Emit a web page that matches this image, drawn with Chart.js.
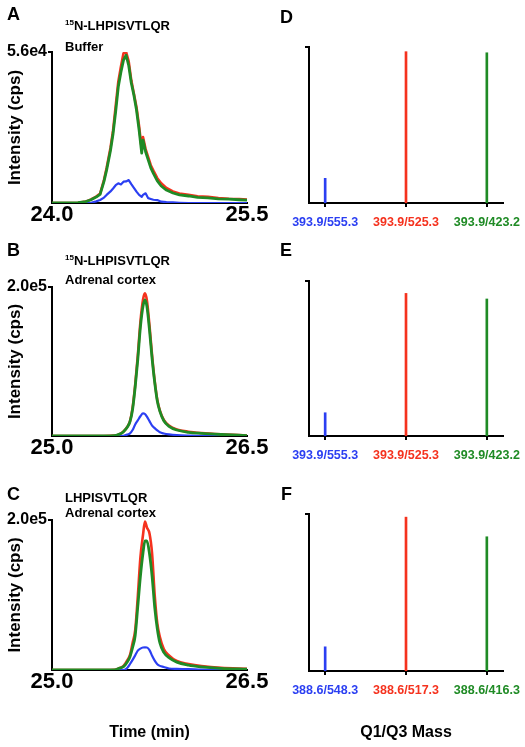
<!DOCTYPE html>
<html>
<head>
<meta charset="utf-8">
<script src="https://cdn.jsdelivr.net/npm/chart.js@4.4.1/dist/chart.umd.min.js"></script>
<style>
  body { margin: 0; background: #fff; }
  #fig { position: relative; width: 525px; height: 747px; overflow: hidden; font-family: "Liberation Sans", Arial, sans-serif; }
  canvas { position: absolute; }
  .lab { position: absolute; font-weight: bold; font-size: 18px; line-height: 1; color: #000; }
  .ann { position: absolute; font-weight: bold; font-size: 13px; color: #000; white-space: nowrap; }
  .ann sup { font-size: 8px; vertical-align: baseline; position: relative; top: -5px; }
</style>
</head>
<body>
<div id="fig">
  <canvas id="cA" width="275" height="232" style="left:0;top:0"></canvas>
  <canvas id="cB" width="275" height="232" style="left:0;top:240px"></canvas>
  <canvas id="cC" width="275" height="267" style="left:0;top:480px"></canvas>
  <canvas id="cD" width="250" height="232" style="left:275px;top:0"></canvas>
  <canvas id="cE" width="250" height="232" style="left:275px;top:240px"></canvas>
  <canvas id="cF" width="250" height="267" style="left:275px;top:480px"></canvas>

  <div class="lab" style="left:7px;top:5px">A</div>
  <div class="lab" style="left:7px;top:241px">B</div>
  <div class="lab" style="left:7px;top:485px">C</div>
  <div class="lab" style="left:280px;top:8px">D</div>
  <div class="lab" style="left:280px;top:241px">E</div>
  <div class="lab" style="left:281px;top:485px">F</div>

  <div class="ann" style="left:65px;top:17px;line-height:18.6px"><sup>15</sup>N-LHPISVTLQR<br>Buffer</div>
  <div class="ann" style="left:65px;top:253px;line-height:16.6px"><sup>15</sup>N-LHPISVTLQR<br>Adrenal cortex</div>
  <div class="ann" style="left:65px;top:490px;line-height:15px">LHPISVTLQR<br>Adrenal cortex</div>
</div>

<script>
// --- datos ---
// A: 15N-LHPISVTLQR en buffer
const timeA = [24.00, 24.10, 24.20, 24.26, 24.30, 24.34, 24.37, 24.40, 24.42, 24.45, 24.47, 24.49, 24.51, 24.53, 24.55, 24.57, 24.59, 24.61, 24.63, 24.65, 24.67, 24.69, 24.70, 24.72, 24.74, 24.76, 24.78, 24.81, 24.84, 24.88, 24.93, 24.98, 25.05, 25.12, 25.20, 25.28, 25.36, 25.44, 25.50];
const redA   = [0, 0, 100, 500, 1300, 2400, 3500, 8600, 13000, 20500, 27000, 36000, 45000, 50500, 55500, 56000, 52500, 45500, 40500, 35500, 28500, 20000, 24500, 20000, 17000, 14000, 12000, 9200, 7300, 5600, 4300, 3500, 3000, 2500, 2300, 1800, 1600, 1500, 1300];
const greenA = [0, 0, 100, 500, 1200, 2200, 3200, 8000, 12200, 19500, 25800, 34000, 43100, 48500, 53000, 54800, 51000, 44500, 40000, 34500, 27000, 18500, 23300, 19000, 16000, 13000, 11000, 8200, 6300, 4800, 3700, 3000, 2600, 2100, 1900, 1500, 1400, 1200, 1100];
const blueA  = [0, 0, 0, 0, 100, 600, 1100, 2000, 3000, 4300, 5400, 6600, 7300, 6900, 7900, 8000, 8500, 7000, 5600, 4200, 3000, 2300, 3000, 3600, 1800, 1500, 1200, 1100, 500, 300, 200, 100, 0, 0, 0, 0, 0, 0, 0];

// B: 15N-LHPISVTLQR en corteza adrenal
const timeB  = [25.00, 25.20, 25.40, 25.48, 25.52, 25.55, 25.58, 25.60, 25.62, 25.64, 25.66, 25.68, 25.70, 25.715, 25.73, 25.75, 25.77, 25.79, 25.81, 25.83, 25.86, 25.90, 25.96, 26.05, 26.15, 26.30, 26.50];
const redB   = [0, 0, 0, 500, 2600, 6000, 12500, 20000, 38000, 69000, 108000, 153000, 183000, 191500, 182000, 148000, 108000, 74000, 48500, 34000, 21500, 14000, 8800, 5800, 4000, 2300, 700];
const greenB = [0, 0, 0, 500, 2500, 5800, 12000, 19200, 36000, 66000, 103000, 146000, 174000, 182600, 174000, 142000, 104000, 72000, 47000, 33000, 20500, 13000, 8000, 5000, 3500, 2000, 500];
const blueB  = [0, 0, 0, 0, 0, 300, 2000, 3600, 8000, 15500, 21000, 26500, 30400, 29500, 25900, 20000, 14000, 10500, 7500, 5000, 3400, 2200, 1200, 600, 300, 0, 0];

// C: LHPISVTLQR endógeno en corteza adrenal
const timeC  = [25.00, 25.20, 25.40, 25.48, 25.52, 25.55, 25.58, 25.60, 25.62, 25.64, 25.66, 25.68, 25.70, 25.715, 25.73, 25.75, 25.77, 25.79, 25.81, 25.83, 25.86, 25.90, 25.96, 26.05, 26.15, 26.30, 26.50];
const redC   = [0, 0, 0, 300, 2600, 5300, 13000, 20000, 36000, 53000, 98000, 150000, 180000, 198000, 190000, 182000, 155000, 100000, 62000, 44000, 28000, 19500, 12000, 8000, 5200, 2800, 1700];
const greenC = [0, 0, 0, 300, 2500, 4400, 11000, 17800, 30000, 46000, 85000, 125000, 156000, 172000, 172000, 155000, 125000, 84000, 55000, 36000, 23500, 16500, 10500, 6500, 4200, 2200, 1000];
const blueC  = [0, 0, 0, 0, 0, 0, 3000, 8000, 13500, 19500, 25800, 28500, 30000, 30200, 30000, 26500, 19000, 12500, 7800, 5500, 4000, 2000, 1500, 1200, 500, 200, 0];

const xRangeA = [24.0, 25.5];
const xRangeB = [25.0, 26.5];
const xRangeC = [25.0, 26.5];
const yMaxA = 56000;
const yMaxB = 200000;
const yMaxC = 200000;

// D-F: transiciones Q1/Q3 (intensidad relativa)
const massD = ["393.9/555.3", "393.9/525.3", "393.9/423.2"];
const relD  = [0.158, 0.97, 0.963];
const massE = ["393.9/555.3", "393.9/525.3", "393.9/423.2"];
const relE  = [0.15, 0.92, 0.884];
const massF = ["388.6/548.3", "388.6/517.3", "388.6/416.3"];
const relF  = [0.154, 0.98, 0.855];

const BLUE = "#2b3ff2", RED = "#f5321e", GREEN = "#1f8b25";
const barColors = [BLUE, RED, GREEN];

Chart.defaults.font.family = '"Liberation Sans", Arial, sans-serif';
Chart.defaults.color = "#000";

const pts = (t, v) => t.map((x, i) => ({ x: x, y: v[i] }));

// cromatograma (paneles A-C); area = [izq, arriba, der, abajo] dentro del canvas
function chromatogram(id, time, red, green, blue, xr, ymax, area, smooth, xTitle) {
    const cv = document.getElementById(id);
    const W = cv.width, H = cv.height;
    const line = smooth ? { tension: 0.3, cubicInterpolationMode: "monotone" } : { tension: 0 };
    return new Chart(cv, {
        type: "line",
        data: {
            datasets: [
                { data: pts(time, green), borderColor: GREEN, borderWidth: 2.8, order: 1 },
                { data: pts(time, blue), borderColor: BLUE, borderWidth: 2.2, order: 2 },
                { data: pts(time, red), borderColor: RED, borderWidth: 2.6, order: 3 }
            ]
        },
        options: {
            responsive: false,
            animation: false,
            layout: { padding: { left: 0, top: area[1], right: W - area[2], bottom: 0 } },
            plugins: { legend: { display: false }, tooltip: { enabled: false } },
            elements: { point: { radius: 0 }, line: Object.assign({ borderJoinStyle: "round" }, line) },
            scales: {
                x: {
                    type: "linear", min: xr[0], max: xr[1],
                    afterBuildTicks: s => { s.ticks = [{ value: xr[0] }, { value: xr[1] }]; },
                    afterFit: s => { s.height = H - area[3]; s.paddingLeft = 0; s.paddingRight = 0; },
                    grid: { display: false, drawTicks: false },
                    border: { display: true, color: "#000", width: 2 },
                    ticks: { padding: -1, maxRotation: 0, font: { size: 22, weight: "bold" }, callback: v => v.toFixed(1) },
                    title: xTitle
                        ? { display: true, text: xTitle, font: { size: 16, weight: "bold" }, padding: { top: 0, bottom: 5 } }
                        : { display: false }
                },
                y: {
                    min: 0, max: ymax,
                    afterBuildTicks: s => { s.ticks = [{ value: ymax }]; },
                    afterFit: s => { s.width = area[0]; },
                    grid: { display: true, drawOnChartArea: false, drawTicks: true, tickLength: 4, color: "#000", lineWidth: 2 },
                    border: { display: true, color: "#000", width: 2 },
                    ticks: { padding: 1, font: { size: 16, weight: "bold" }, callback: v => v.toExponential(1).replace("+", "") },
                    title: { display: true, text: "Intensity (cps)", font: { size: 17, weight: "bold" }, padding: { top: 5, bottom: 0 } }
                }
            }
        }
    });
}

// transiciones (paneles D-F)
function transitions(id, labels, heights, area, xTitle) {
    const cv = document.getElementById(id);
    const W = cv.width, H = cv.height;
    return new Chart(cv, {
        type: "bar",
        data: {
            datasets: [{
                data: heights.map((h, i) => ({ x: i, y: h })),
                backgroundColor: barColors,
                borderWidth: 0,
                barThickness: 2
            }]
        },
        options: {
            responsive: false,
            animation: false,
            layout: { padding: { left: 0, top: area[1], right: W - area[2], bottom: 0 } },
            plugins: { legend: { display: false }, tooltip: { enabled: false } },
            scales: {
                x: {
                    type: "linear", min: -0.2, max: 2.2, offset: false,
                    afterBuildTicks: s => { s.ticks = labels.map((l, i) => ({ value: i })); },
                    afterFit: s => { s.height = H - area[3]; s.paddingLeft = 0; s.paddingRight = 0; },
                    grid: { display: true, offset: false, drawOnChartArea: false, drawTicks: true, tickLength: 4, color: "#000", lineWidth: 2 },
                    border: { display: true, color: "#000", width: 2 },
                    ticks: { padding: 8, maxRotation: 0, font: { size: 12.5, weight: "bold" }, color: c => barColors[c.index], callback: v => labels[v] },
                    title: xTitle
                        ? { display: true, text: xTitle, font: { size: 16, weight: "bold" }, padding: { top: 0, bottom: 5 } }
                        : { display: false }
                },
                y: {
                    min: 0, max: 1,
                    afterBuildTicks: s => { s.ticks = [{ value: 1 }]; },
                    afterFit: s => { s.width = area[0]; },
                    grid: { display: true, drawOnChartArea: false, drawTicks: true, tickLength: 4, color: "#000", lineWidth: 2 },
                    border: { display: true, color: "#000", width: 2 },
                    ticks: { callback: () => "" }
                }
            }
        }
    });
}

chromatogram("cA", timeA, redA, greenA, blueA, xRangeA, yMaxA, [52, 52, 247, 203], false, null);
chromatogram("cB", timeB, redB, greenB, blueB, xRangeB, yMaxB, [52, 47, 247, 196], true, null);
chromatogram("cC", timeC, redC, greenC, blueC, xRangeC, yMaxC, [52, 40, 247, 190], true, "Time (min)");

transitions("cD", massD, relD, [34, 47, 228, 203], null);
transitions("cE", massE, relE, [34, 41, 228, 196], null);
transitions("cF", massF, relF, [34, 34, 228, 191], "Q1/Q3 Mass");
</script>
</body>
</html>
